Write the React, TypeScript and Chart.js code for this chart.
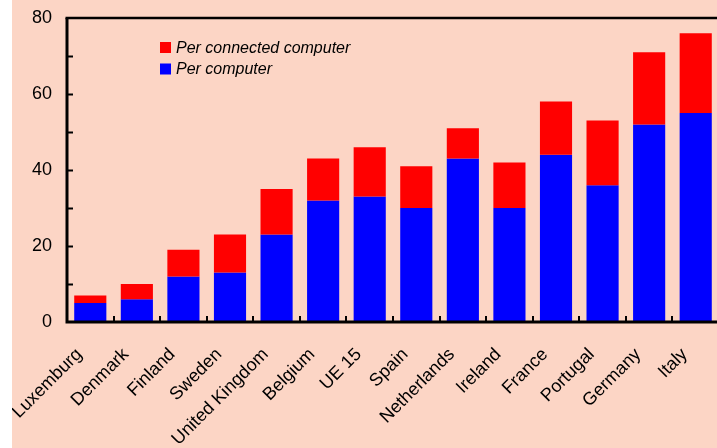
import React, { useEffect, useRef } from "react";
import { Chart, registerables } from "chart.js";

Chart.register(...registerables);

const categories = [
  "Luxemburg", "Denmark", "Finland", "Sweden", "United Kingdom", "Belgium", "UE 15",
  "Spain", "Netherlands", "Ireland", "France", "Portugal", "Germany", "Italy",
];
const perComputer = [5, 6, 12, 13, 23, 32, 33, 30, 43, 30, 44, 36, 52, 55];
const perConnectedComputer = [7, 10, 19, 23, 35, 43, 46, 41, 51, 42, 58, 53, 71, 76];
const seriesLabels = ["Per connected computer", "Per computer"];
const seriesColors = ["#FF0000", "#0000FF"];
const yTicks = [0, 20, 40, 60, 80];

const BG = "#FCD5C5";
const FONT = "'Liberation Sans', Arial, sans-serif";

const framePlugin = {
  id: "frame",
  afterDatasetsDraw(chart: any) {
    const { ctx, chartArea, scales } = chart;
    const { left, right, top, bottom } = chartArea;
    ctx.save();
    ctx.strokeStyle = "#000";
    ctx.lineWidth = 2;
    const y = scales.y;
    for (let v = 10; v < 80; v += 10) {
      const py = Math.round(y.getPixelForValue(v)) + 0.5;
      ctx.beginPath();
      ctx.moveTo(left, py);
      ctx.lineTo(left + 6, py);
      ctx.stroke();
    }
    const x = scales.x;
    for (let i = 1; i < categories.length; i++) {
      const px = Math.round((x.getPixelForValue(i - 1) + x.getPixelForValue(i)) / 2);
      ctx.beginPath();
      ctx.moveTo(px, bottom);
      ctx.lineTo(px, bottom - 6);
      ctx.stroke();
    }
    ctx.lineWidth = 3;
    ctx.beginPath();
    ctx.moveTo(left, top);
    ctx.lineTo(left, bottom);
    ctx.lineTo(right + 20, bottom);
    ctx.stroke();
    ctx.lineWidth = 2.5;
    ctx.beginPath();
    ctx.moveTo(left - 1.5, top);
    ctx.lineTo(right + 20, top);
    ctx.stroke();

    ctx.font = `italic 16px ${FONT}`;
    ctx.textBaseline = "middle";
    ctx.textAlign = "left";
    const lx = 148;
    const ly = [47.5, 69];
    chart.data.datasets.forEach((ds: any, i: number) => {
      ctx.fillStyle = ds.backgroundColor;
      ctx.fillRect(lx, ly[i] - 5.5, 11, 11);
      ctx.fillStyle = "#000";
      ctx.fillText(ds.label, lx + 16, ly[i] + 1);
    });
    ctx.restore();
  },
};

export default function App() {
  const ref = useRef<HTMLCanvasElement>(null);
  useEffect(() => {
    document.body.style.margin = "0";
    document.body.style.overflow = "hidden";
    const chart = new Chart(ref.current!, {
      type: "bar",
      data: {
        labels: categories,
        datasets: [
          {
            label: seriesLabels[0],
            data: perComputer.map((v, i) => [v, perConnectedComputer[i]]) as any,
            backgroundColor: seriesColors[0],
            grouped: false,
            categoryPercentage: 1,
            barPercentage: 0.69,
            order: 1,
          } as any,
          {
            label: seriesLabels[1],
            data: perComputer,
            backgroundColor: seriesColors[1],
            grouped: false,
            categoryPercentage: 1,
            barPercentage: 0.69,
            order: 2,
          } as any,
        ],
      },
      options: {
        animation: false,
        responsive: false,
        maintainAspectRatio: false,
        layout: { padding: { top: 18, right: 0, left: 0, bottom: 0 } },
        plugins: { legend: { display: false }, tooltip: { enabled: false } },
        scales: {
          x: {
            grid: { display: false, drawTicks: false },
            border: { display: false },
            ticks: {
              color: "#000",
              font: { family: FONT, size: 18 },
              minRotation: 45,
              maxRotation: 45,
              padding: 22,
              labelOffset: -11,
            },
            afterFit: (s: any) => {
              s.height = 126;
              s.paddingLeft = 0;
              s.paddingRight = 0;
              s.paddingTop = 0;
              s.paddingBottom = 0;
            },
          },
          y: {
            min: 0,
            max: 80,
            grid: { display: false, drawTicks: false },
            border: { display: false },
            afterBuildTicks: (s: any) => { s.ticks = yTicks.map((v) => ({ value: v })); },
            ticks: {
              color: "#000",
              font: { family: FONT, size: 18 },
              padding: 15,
            },
            afterFit: (s: any) => {
              s.width = 55;
              s.paddingTop = 0;
              s.paddingBottom = 0;
              s.paddingLeft = 0;
              s.paddingRight = 0;
            },
          },
        },
      },
      plugins: [framePlugin],
    });
    return () => chart.destroy();
  }, []);
  return (
    <div style={{ width: 717, height: 448, overflow: "hidden", background: "#fff", position: "relative" }}>
      <div style={{ position: "absolute", left: 12, top: 0, width: 720, height: 448, background: BG }}>
        <canvas ref={ref} width={707} height={448} style={{ display: "block" }} />
      </div>
    </div>
  );
}
